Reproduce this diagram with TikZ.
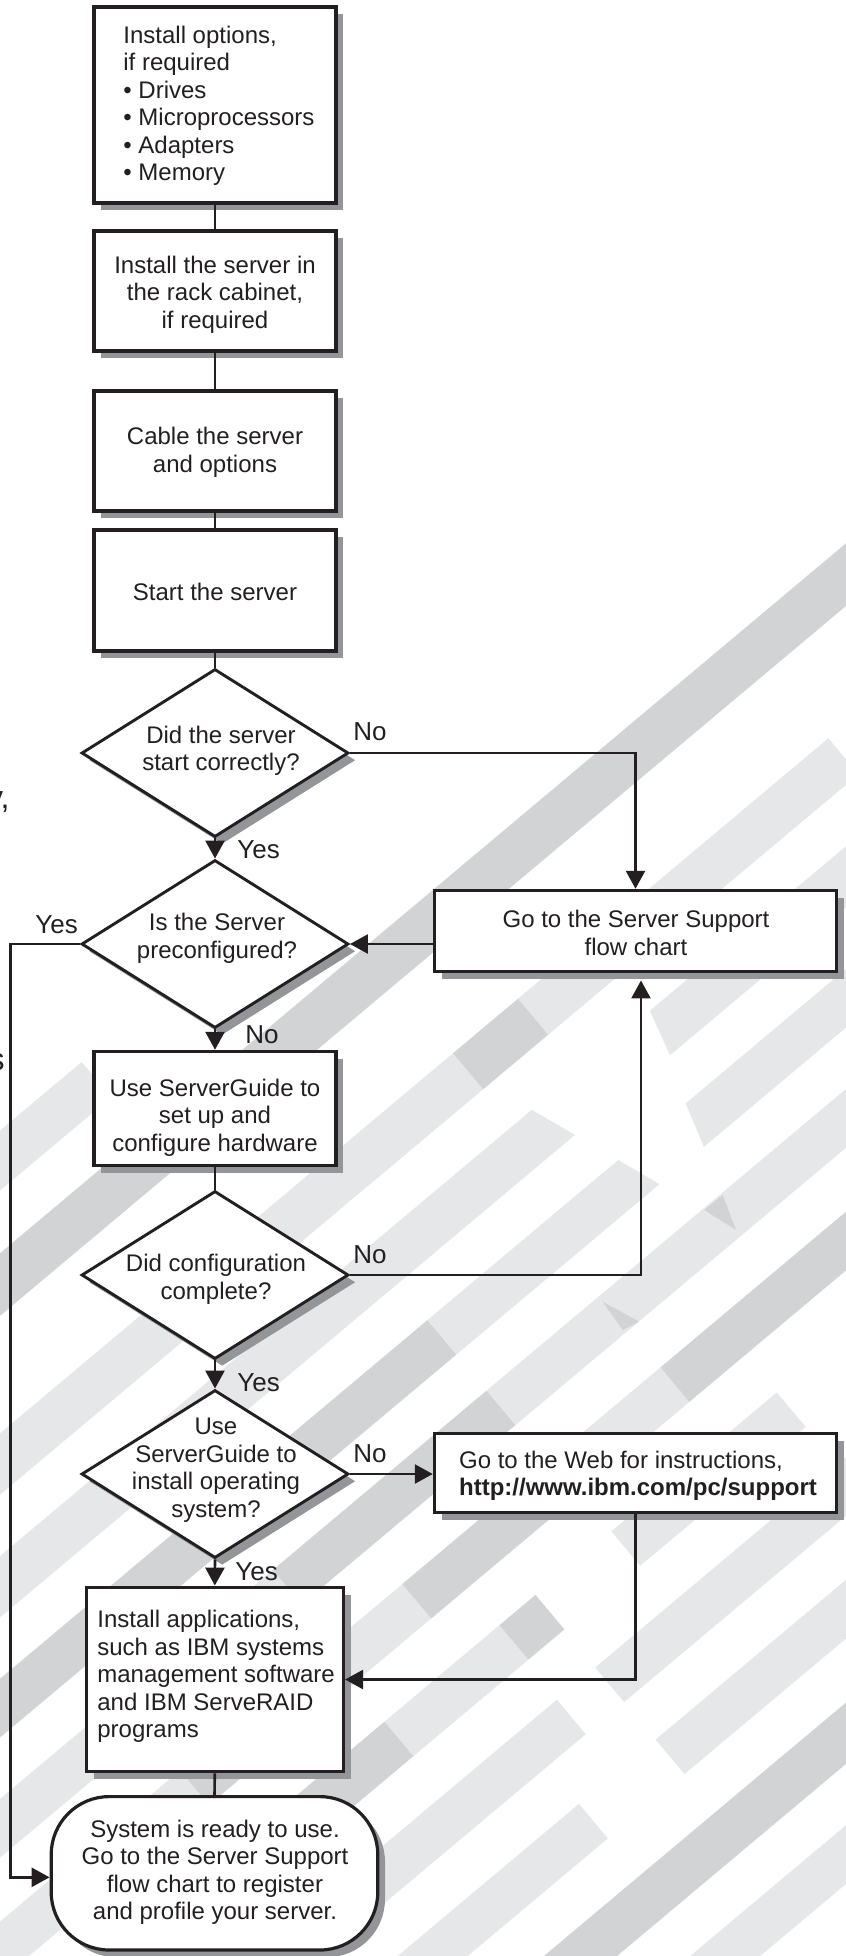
\documentclass[tikz,border=0pt]{standalone}
\usepackage{fontspec}
\setmainfont{Liberation Sans}
\usetikzlibrary{arrows.meta,shapes.geometric,shadows,calc}
\definecolor{lgray}{HTML}{E6E7E8}
\definecolor{mgray}{HTML}{D1D3D4}
\definecolor{shgray}{HTML}{939598}
\definecolor{ink}{HTML}{231F20}
\newcommand\bnd[7]{\fill[#1] (#4,#2) -- (#5,#2) -- (#7,#3) -- (#6,#3) -- cycle;}
\newcommand\txtsize{\fontsize{12pt}{13.75pt}\selectfont}
\newcommand\lblsize{\fontsize{13pt}{15pt}\selectfont}
\tikzset{
  shd/.style={drop shadow={shadow xshift=3.6pt,shadow yshift=-3.6pt,fill=shgray,opacity=1}},
  box/.style={rectangle,draw=ink,line width=1.75pt,fill=white,inner sep=0pt,shd},
  dia/.style={diamond,draw=ink,line width=1.45pt,fill=white,inner sep=0pt,minimum width=133.5pt,minimum height=84pt,shd},
  termbox/.style={rectangle,rounded corners=29pt,draw=ink,line width=1.6pt,fill=white,inner sep=0pt,shd},
  txt/.style={inner sep=0pt,font=\txtsize,align=center,text=ink},
  lbl/.style={inner sep=0pt,font=\lblsize,text=ink,anchor=west},
  conn/.style={draw=ink,line width=1.3pt},
  arr/.style={conn,-{Triangle[length=9pt,width=9.5pt]}},
}
\begin{document}
\begin{tikzpicture}[x=0.5pt,y=-0.5pt]
\useasboundingbox (0,0) rectangle (846,1956);
% background stripes
\begin{scope}
\clip (0,0) rectangle (846,1956);
\begin{scope}[rotate=40]
\bnd{mgray}{960}{1008}{-950}{400}{-950}{400}
\bnd{lgray}{866}{912}{-800}{-620}{-800}{-620}
\bnd{lgray}{1098}{1145}{-1000}{-330}{-1000}{-330}
\bnd{mgray}{1098}{1145}{-330}{-245}{-330}{-245}
\bnd{lgray}{1098}{1145}{-245}{160}{-245}{160}
\bnd{lgray}{1192}{1239}{-1100}{-306}{-1100}{-289}
\bnd{lgray}{1192}{1239}{-152}{300}{-165}{300}
\bnd{mgray}{1286}{1331}{-1150}{-521}{-1150}{-521}
\bnd{lgray}{1286}{1331}{-521}{-272}{-521}{-256}
\bnd{lgray}{1286}{1331}{-184}{300}{-198}{300}
\bnd{lgray}{1378}{1423}{-1250}{-800}{-1250}{-800}
\bnd{mgray}{1378}{1423}{-800}{-521}{-800}{-521}
\bnd{lgray}{1378}{1423}{-521}{300}{-521}{300}
\bnd{lgray}{1472}{1517}{-1300}{-1000}{-1300}{-1000}
\bnd{mgray}{1472}{1517}{-1000}{-880}{-1000}{-880}
\bnd{lgray}{1472}{1517}{-880}{-710}{-880}{-710}
\bnd{mgray}{1472}{1517}{-710}{-521}{-710}{-521}
\bnd{lgray}{1472}{1517}{-521}{-373}{-521}{-373}
\bnd{mgray}{1472}{1517}{-373}{300}{-373}{300}
\bnd{mgray}{1566}{1611}{-1350}{-812}{-1350}{-812}
\bnd{lgray}{1566}{1611}{-812}{-662}{-812}{-662}
\bnd{mgray}{1566}{1611}{-662}{-615}{-662}{-615}
\bnd{lgray}{1566}{1611}{-516}{-300}{-516}{-300}
\bnd{lgray}{1660}{1705}{-1400}{-666}{-1400}{-666}
\bnd{lgray}{1660}{1705}{-616}{300}{-616}{300}
\bnd{lgray}{1754}{1799}{-1400}{-716}{-1400}{-716}
\bnd{lgray}{1754}{1799}{-616}{300}{-616}{300}
\bnd{mgray}{1848}{1895}{-1400}{300}{-1400}{300}
\bnd{lgray}{1942}{1987}{-1400}{300}{-1400}{300}
\end{scope}
\fill[mgray] (704.3,1210) -- (722.7,1195) -- (736,1230) -- cycle;
\fill[mgray] (602.7,1301.7) -- (639.3,1321.7) -- (622.7,1330) -- cycle;
\end{scope}
% cut-off text at the left edge
\node[inner sep=0pt,font=\fontsize{16pt}{18pt}\selectfont,anchor=base east,text=ink] (f1) at (10,808) {y,};
\node[inner sep=0pt,font=\fontsize{16pt}{18pt}\selectfont,anchor=base east,text=ink] (f2) at (5,1070) {s};
% shapes
\node[box,minimum width=121pt,minimum height=98pt] (b1) at (215,105) {};
\node[box,minimum width=121pt,minimum height=60pt] (b2) at (215,291) {};
\node[box,minimum width=121pt,minimum height=60pt] (b3) at (215,451) {};
\node[box,minimum width=121pt,minimum height=60.5pt] (b4) at (215,590.5) {};
\node[dia] (d1) at (215,753) {};
\node[dia] (d2) at (215,944) {};
\node[box,minimum width=201pt,minimum height=40.5pt] (b5) at (635.5,931) {};
\node[box,minimum width=121pt,minimum height=57pt] (b6) at (215,1108.5) {};
\node[dia] (d3) at (215,1275) {};
\node[dia] (d4) at (215,1474) {};
\node[box,minimum width=201pt,minimum height=39.7pt] (b7) at (635.5,1473) {};
\node[box,minimum width=128.5pt,minimum height=92.2pt] (b8) at (214.8,1679.5) {};
\node[termbox,minimum width=163.3pt,minimum height=76.7pt] (t) at (214.5,1873.3) {};
% texts
\node[txt,align=left,anchor=west] (b1t) at (123,105.8) {Install options,\\if required\\• Drives\\• Microprocessors\\• Adapters\\• Memory};
\node[txt] (b2t) at (215,294.7) {Install the server in\\the rack cabinet,\\if required};
\node[txt] (b3t) at (215,452.5) {Cable the server\\and options};
\node[txt] (b4t) at (215,592) {Start the server};
\node[txt] (d1t) at (221,751) {Did the server\\start correctly?};
\node[txt] (d2t) at (217,938.5) {Is the Server\\preconfigured?};
\node[txt] (b5t) at (636,933) {Go to the Server Support\\flow chart};
\node[txt] (b6t) at (215,1117.7) {Use ServerGuide to\\set up and\\configure hardware};
\node[txt] (d3t) at (216,1279.5) {Did configuration\\complete?};
\node[txt] (d4t) at (216,1470) {Use\\ServerGuide to\\install operating\\system?};
\node[txt,align=left,anchor=west] (b7t) at (458.7,1476) {Go to the Web for instructions,\\\textbf{http://www.ibm.com/pc/support}};
\node[txt,align=left,anchor=west] (b8t) at (97,1676.7) {Install applications,\\such as IBM systems\\management software\\and IBM ServeRAID\\programs};
\node[txt] (tt) at (215,1872.5) {System is ready to use.\\Go to the Server Support\\flow chart to register\\and profile your server.};
% connectors
\draw[conn] (b1.south) -- (b2.north);
\draw[conn] (b2.south) -- (b3.north);
\draw[conn] (b3.south) -- (b4.north);
\draw[conn] (b4.south) -- (d1.north);
\draw[arr] (d1.south) -- (d2.north);
\draw[arr] (d1.east) -| (b5.north);
\draw[arr] (b5.west |- d2.east) -- (d2.east);
\draw[arr] (d2.west) -- ++(-69.5,0) |- ([yshift=-2pt]t.west);
\draw[arr] (d2.south) -- (b6.north);
\draw[conn] (b6.south) -- (d3.north);
\draw[arr] (d3.east) -| ([xshift=2.75pt,yshift=-3.6pt]b5.south);
\draw[arr] (d3.south) -- (d4.north);
\draw[arr] (d4.east) -- (b7.west |- d4.east);
\draw[arr] (b7.south) |- (b8.east);
\draw[arr] (d4.south) -- (b8.north);
\draw[conn] (b8.south) -- (t.north);
% labels
\node[lbl] (n1) at (353,732) {No};
\node[lbl] (y1) at (237,850) {Yes};
\node[lbl] (y2) at (35,925) {Yes};
\node[lbl] (n2) at (245,1035) {No};
\node[lbl] (n3) at (353,1255) {No};
\node[lbl] (y3) at (237,1383) {Yes};
\node[lbl] (n4) at (353,1454) {No};
\node[lbl] (y4) at (235,1572) {Yes};
\end{tikzpicture}
\end{document}
